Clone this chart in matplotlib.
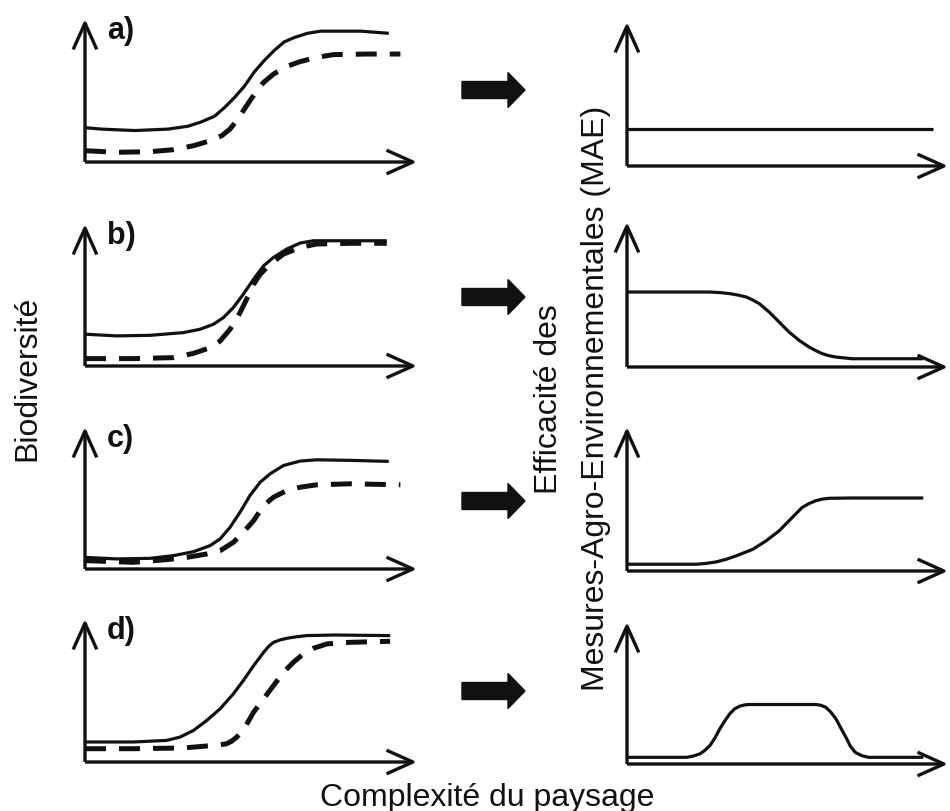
"""
Schematic: biodiversity vs landscape complexity (left) and the resulting
efficiency of agri-environment schemes (right), four scenarios a) to d).
"""

import matplotlib
matplotlib.use("Agg")
import matplotlib.pyplot as plt
import matplotlib.patches as mpatches

plt.rcParams["font.family"] = ["Liberation Sans", "DejaVu Sans"]

# ---- data (axis units: 0..100 along each arrow) --------------------------
# left column: solid = with MAE, dashed = without MAE
a_solid_x = [0, 5, 15, 25, 31, 35, 39, 42, 45, 48, 51, 54, 57, 60, 63, 67, 71, 75, 83, 91.5]
a_solid_y = [24, 23, 22, 23, 25, 28, 32, 38, 45, 53, 63, 71, 78, 84, 87, 90, 91.5, 91.5, 91.5, 90]
a_dash_x = [0, 9.5, 19.6, 26.6, 32.7, 37.7, 41.2, 43.7, 45.7, 47.7, 49.7, 51.8, 53.8, 56.8,
            60.8, 64.8, 69.8, 74.9, 84.9, 95]
a_dash_y = [7.9, 6.8, 7.2, 8.6, 11.4, 14.9, 18.4, 23.1, 28.9, 35.9, 42.9, 49.9, 55.7, 61.5,
            66.9, 70.2, 73.2, 75.1, 75.5, 75.5]

b_solid_x = [0, 9.5, 19.6, 29.6, 34.7, 38.7, 41.7, 44.7, 47.7, 50.8, 53.8, 56.8, 60.8, 64.8,
             68.8, 74.9, 90.9]
b_solid_y = [22.4, 21.2, 21.6, 23.5, 25.9, 29.4, 34.1, 41.2, 50.6, 61.2, 70.6, 76.5, 82.4,
             86.6, 88.2, 88.2, 88.2]
b_dash_x = [0, 14.6, 26.6, 32.7, 37.7, 40.7, 43.7, 46.2, 48.7, 50.8, 52.8, 55.8, 59.8, 64.8,
            69.8, 79.9, 90.9]
b_dash_y = [5.2, 5.2, 5.9, 8.9, 12.9, 17.6, 25.9, 35.3, 47.1, 57.6, 64.7, 71.8, 78.8, 83.5,
            85.9, 86.4, 86.4]

c_solid_x = [0, 9.5, 19.6, 26.6, 32.7, 37.7, 40.7, 43.7, 46.7, 49.7, 52.8, 55.8, 59.8, 64.8,
             69.8, 79.9, 91.5]
c_solid_y = [8.2, 7.1, 7.5, 9.4, 12.2, 16.5, 21.2, 29.4, 40.0, 51.8, 61.2, 67.1, 72.9, 76.0,
             76.9, 76.5, 75.8]
c_dash_x = [0, 14.6, 24.6, 30.7, 36.7, 40.7, 44.7, 47.7, 50.8, 53.8, 56.8, 60.8, 64.8, 69.8,
            79.9, 95]
c_dash_y = [5.9, 4.7, 6.6, 8.2, 10.6, 12.9, 18.8, 25.9, 34.1, 44.7, 50.6, 55.3, 57.6, 59.3,
            60.0, 59.3]

d_solid_x = [0, 14.6, 24.6, 28.6, 32.7, 36.7, 40.7, 44.7, 47.7, 50.8, 53.8, 55.3, 56.8, 58.8,
             60.8, 63.8, 66.8, 74.9, 91.9]
d_solid_y = [14.0, 14.0, 15.1, 17.4, 22.1, 29.1, 37.2, 47.7, 57.0, 67.4, 76.7, 80.8, 83.7,
             85.4, 86.5, 87.6, 88.4, 88.8, 88.4]
d_dash_x = [0, 14.6, 29.6, 36.7, 40.7, 42.7, 44.2, 45.7, 48.2, 50.8, 53.8, 56.8, 59.8, 62.8,
            65.8, 68.8, 72.9, 79.9, 91.9]
d_dash_y = [9.3, 9.3, 9.8, 11.2, 12.0, 12.8, 14.6, 17.4, 24.4, 34.9, 44.2, 53.5, 62.8, 69.8,
            75.6, 79.5, 82.6, 83.7, 84.4]

# right column: MAE efficiency
a_eff_x = [0, 95.4]
a_eff_y = [25.6, 25.6]
b_eff_x = [0, 13.4, 25.8, 29.0, 32.0, 34.6, 37.1, 39.2, 41.2, 44.3, 47.4, 50.5, 53.6, 56.7,
           58.8, 60.8, 62.9, 64.9, 70.1, 80.4, 92.3]
b_eff_y = [51.7, 51.7, 51.7, 51.3, 50.6, 49.6, 48.3, 46.2, 43.7, 37.9, 31.0, 24.1, 18.4, 13.8,
           11.3, 9.2, 7.8, 6.9, 5.7, 5.7, 5.7]
c_eff_x = [0, 13.4, 21.6, 24.7, 27.8, 31.0, 34.0, 39.2, 43.3, 47.4, 51.5, 54.6, 56.7, 58.8,
           60.8, 62.9, 70.1, 80.4, 92.3]
c_eff_y = [4.7, 4.7, 4.7, 5.3, 6.3, 8.2, 10.5, 15.1, 20.9, 27.9, 37.2, 44.2, 46.8, 48.8, 49.9,
           50.5, 50.7, 50.7, 50.7]
d_eff_x = [0, 18.6, 20.5, 22.7, 24.2, 25.8, 27.3, 28.9, 30.5, 32.0, 33.5, 35.1, 36.6, 38.1,
           58.8, 60.3, 61.9, 63.5, 65.1, 66.7, 68.2, 69.6, 71.1, 73.2, 75.3, 92.3]
d_eff_y = [4.7, 4.7, 5.5, 7.1, 9.5, 12.9, 18.0, 24.7, 30.5, 35.3, 38.8, 40.7, 41.6, 41.9,
           41.9, 41.4, 40.0, 36.5, 31.8, 25.0, 18.8, 12.5, 8.2, 5.8, 4.7, 4.7]

panel_labels = ["a)", "b)", "c)", "d)"]
left_curves = [(a_solid_x, a_solid_y, a_dash_x, a_dash_y),
               (b_solid_x, b_solid_y, b_dash_x, b_dash_y),
               (c_solid_x, c_solid_y, c_dash_x, c_dash_y),
               (d_solid_x, d_solid_y, d_dash_x, d_dash_y)]
right_curves = [(a_eff_x, a_eff_y), (b_eff_x, b_eff_y),
                (c_eff_x, c_eff_y), (d_eff_x, d_eff_y)]

# ---- layout (pixels: x0, y of x-axis from top, width, height) -------------
W, H = 950, 812
LEFT_BOX = [(85, 163, 332, 143), (85, 367, 332, 142), (85, 570, 332, 142), (85, 763, 332, 143)]
RIGHT_BOX = [(627, 167, 321, 144), (627, 368, 321, 145), (627, 572, 321, 144), (627, 765, 321, 142)]
BIG_ARROW_Y = [91, 298, 502, 692]
INK = "#111111"


def add_axes_px(fig, box):
    x0, yb, w, h = box
    ax = fig.add_axes([x0 / W, 1 - yb / H, w / W, h / H])
    ax.set_xlim(0, 100)
    ax.set_ylim(0, 100)
    ax.axis("off")
    arrow = dict(arrowstyle="->,head_length=1.9,head_width=0.85", lw=2.4, color=INK,
                 mutation_scale=10, shrinkA=0, shrinkB=0, capstyle="butt")
    ax.annotate("", xy=(1, 0), xytext=(0, 0), xycoords="axes fraction",
                textcoords="axes fraction", arrowprops=arrow, annotation_clip=False)
    ax.annotate("", xy=(0, 1), xytext=(0, 0), xycoords="axes fraction",
                textcoords="axes fraction", arrowprops=arrow, annotation_clip=False)
    return ax


fig = plt.figure(figsize=(W / 100, H / 100), dpi=100)

for i in range(4):
    sx, sy, dx, dy = left_curves[i]
    ax = add_axes_px(fig, LEFT_BOX[i])
    ax.plot(sx, sy, color=INK, lw=2.3, clip_on=False, solid_capstyle="butt",
            solid_joinstyle="round")
    ax.plot(dx, dy, color=INK, lw=3.6, ls=(0, (4.2, 2.6)), clip_on=False)
    ax.text(0.066, 1.03, panel_labels[i], transform=ax.transAxes, fontsize=22,
            fontweight="bold", ha="left", va="top", color=INK)

    ex, ey = right_curves[i]
    axr = add_axes_px(fig, RIGHT_BOX[i])
    axr.plot(ex, ey, color=INK, lw=2.3, clip_on=False, solid_capstyle="butt",
             solid_joinstyle="round")

    # thick block arrow between the two columns
    fig.patches.append(mpatches.FancyArrow(
        462 / W, 1 - BIG_ARROW_Y[i] / H, 63 / W, 0,
        width=17 / H, head_width=35 / H, head_length=17 / W,
        length_includes_head=True, color=INK, transform=fig.transFigure, figure=fig))

fig.text(27 / W, 1 - 378 / H, "Biodiversité", rotation=90, fontsize=23,
         ha="center", va="center", color=INK)
fig.text(549 / W, 1 - 399 / H, "Efficacité des", rotation=90, fontsize=23,
         ha="center", va="center", color=INK)
fig.text(596 / W, 1 - 398 / H, "Mesures-Agro-Environnementales (MAE)", rotation=90,
         fontsize=23, ha="center", va="center", color=INK)
fig.text(487 / W, 1 - 806 / H, "Complexité du paysage", fontsize=23,
         ha="center", va="baseline", color=INK)

fig.savefig("out.png", dpi=100, facecolor="white")
